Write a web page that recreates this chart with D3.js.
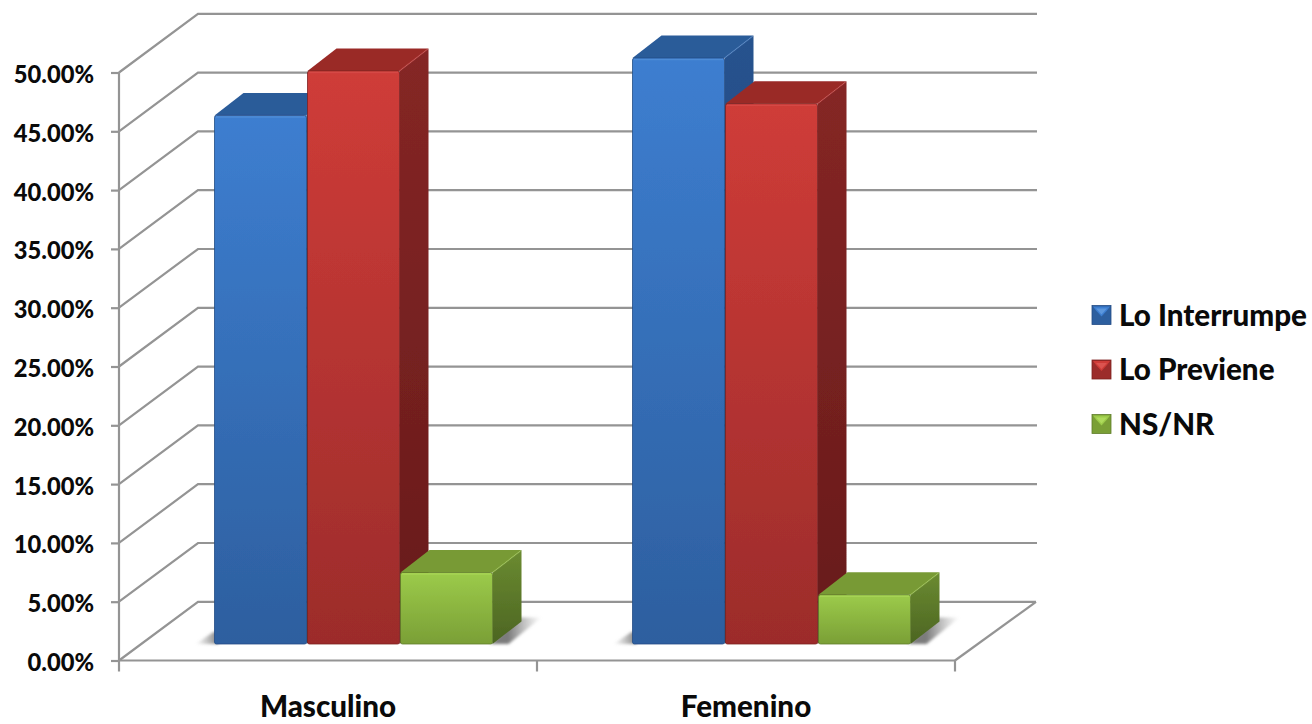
<!DOCTYPE html>
<html><head><meta charset="utf-8">
<script src="https://cdn.jsdelivr.net/npm/d3@7"></script>
<style>html,body{margin:0;background:#fff}svg{display:block}text{font-family:Lato,"Open Sans",sans-serif;font-weight:900;fill:#0a0a0a}</style>
</head><body><div id="c"></div>
<script>
const categories = ["Masculino", "Femenino"];
const loInterrumpe = [45.1, 50.0];
const loPreviene = [48.9, 46.1];
const nsNr = [6.1, 4.2];
const seriesNames = ["Lo Interrumpe", "Lo Previene", "NS/NR"];
const tickValues = [0,5,10,15,20,25,30,35,40,45,50];
const palette = [
  {front:["#3d7ed0","#2d5f9f"],top:"#2b5b99",side:["#27528e","#1d4272"],edge:"#5c97dd",dark:"#234d85"},
  {front:["#cf3c38","#9c2c2b"],top:"#9a2a28",side:["#852625","#671b1b"],edge:"#dc5450",dark:"#7e2220"},
  {front:["#9ccb4a","#7a9f36"],top:"#789a34",side:["#6b8b31","#4c6522"],edge:"#aedb5c",dark:"#5f7d2a"}
];

const W=1312,H=724;
const svg=d3.select("#c").append("svg").attr("width",W).attr("height",H);
const defs=svg.append("defs");
const f=defs.append("filter").attr("id","shadow").attr("x","-50%").attr("y","-50%").attr("width","200%").attr("height","200%");
f.append("feGaussianBlur").attr("stdDeviation",1.6);
const soft=defs.append("filter").attr("id","soft");
soft.append("feGaussianBlur").attr("stdDeviation",0.45);
palette.forEach((p,i)=>{
  [["front",p.front],["side",p.side]].forEach(([k,c])=>{
    const g=defs.append("linearGradient").attr("id",k+i).attr("x1",0).attr("x2",0).attr("y1",0).attr("y2",1);
    g.append("stop").attr("offset",0).attr("stop-color",c[0]);
    g.append("stop").attr("offset",1).attr("stop-color",c[1]);
  });
});
const fr=defs.append("linearGradient").attr("id","fadeR").attr("x1",0).attr("x2",1).attr("y1",0).attr("y2",0);
fr.append("stop").attr("offset",0.35).attr("stop-color","#7c7c7c");
fr.append("stop").attr("offset",1).attr("stop-color","#9a9a9a").attr("stop-opacity",0);
const fl=defs.append("linearGradient").attr("id","fadeL").attr("x1",0).attr("x2",1).attr("y1",0).attr("y2",0);
fl.append("stop").attr("offset",0).attr("stop-color","#9a9a9a").attr("stop-opacity",0);
fl.append("stop").attr("offset",1).attr("stop-color","#7c7c7c");

// scales
const plotLeft=119, plotRight=955, y0=660.5, yTop=72.5;
const wallDx=79, wallDy=58.7;
const x=d3.scaleBand().domain(categories).range([plotLeft,plotRight]);
const y=d3.scaleLinear().domain([0,50]).range([y0,yTop]);
const barBase=644;
const yBar=d3.scaleLinear().domain([0,50]).range([barBase,barBase-50*11.72]);
const barW=92, barStep=93, depthDx=29, depthDy=22.5, groupOffset=95.5;

// walls and floor
const grid=svg.append("g").attr("fill","none").attr("stroke","#949494").attr("stroke-width",2.2);
grid.selectAll("path.g").data(tickValues).join("path").attr("class","g")
  .attr("d",v=>`M${plotLeft},${y(v)}L${plotLeft+wallDx},${y(v)-wallDy}L${plotRight+wallDx+(v===0?2:3)},${y(v)-wallDy}`);
grid.append("path").attr("d",`M${plotRight},${y0}L${plotRight+wallDx+2},${y0-wallDy}`);

// axes
const gy=svg.append("g").attr("transform",`translate(${plotLeft},0)`)
  .call(d3.axisLeft(y).tickValues(tickValues).tickSize(8).tickPadding(17).tickFormat(d=>d3.format(".2f")(d)+"%"));
gy.selectAll("line").attr("stroke","#949494").attr("stroke-width",2.2);
gy.select(".domain").attr("stroke","#949494").attr("stroke-width",2.2).attr("d",`M0,${yTop}V${y0}`);
gy.selectAll("text").style("font-size","23.7px").attr("dy","0.42em");

const gx=svg.append("g").attr("transform",`translate(0,${y0})`)
  .call(d3.axisBottom(x).tickSize(0).tickPadding(35.5));
gx.select(".domain").attr("stroke","#949494").attr("stroke-width",2.2).attr("d",`M${plotLeft},0H${plotRight}`);
gx.selectAll("text").style("font-size","29.6px");
const edges=[plotLeft,plotLeft+x.step(),plotLeft+2*x.step()];
gx.selectAll("line.edge").data(edges).join("line").attr("class","edge")
  .attr("x1",d=>d).attr("x2",d=>d).attr("y1",0).attr("y2",11).attr("stroke","#949494").attr("stroke-width",2.2);

// bars
const series=[loInterrumpe,loPreviene,nsNr];
const bars=svg.append("g");
categories.forEach((c,ci)=>{
  const gx0=x(c)+groupOffset;
  const xe=gx0+3*barStep-1;
  // floor shadow: left wedge beside the first bar, right wedge past the last bar
  bars.append("path").attr("filter","url(#shadow)").attr("fill","url(#fadeL)")
    .attr("d",`M${gx0-19},${barBase}L${gx0-1},${barBase-12}H${gx0+4}V${barBase}Z`);
  bars.append("path").attr("filter","url(#shadow)").attr("fill","url(#fadeR)")
    .attr("d",`M${xe-2},${barBase}L${xe+depthDx-2},${barBase-depthDy-4}H${xe+depthDx+20}L${xe+16},${barBase}Z`);
  series.forEach((s,si)=>{
    const v=s[ci], p=palette[si], xl=gx0+si*barStep, xr=xl+barW, yt=yBar(v), yb=barBase;
    const g=bars.append("g").datum(v).attr("filter","url(#soft)");
    g.append("path").attr("fill",`url(#side${si})`)
      .attr("d",`M${xr},${yt}L${xr+depthDx},${yt-depthDy}L${xr+depthDx},${yb-depthDy}L${xr},${yb}Z`);
    g.append("path").attr("fill",p.top)
      .attr("d",`M${xl},${yt}L${xl+depthDx},${yt-depthDy}L${xr+depthDx},${yt-depthDy}L${xr},${yt}Z`);
    g.append("rect").attr("x",xl).attr("y",yt).attr("width",barW).attr("height",yb-yt).attr("rx",2)
      .attr("fill",`url(#front${si})`).attr("stroke",p.dark).attr("stroke-width",0.8);
    g.append("path").attr("fill","none").attr("stroke",p.edge).attr("stroke-opacity",.55).attr("stroke-width",1.6)
      .attr("d",`M${xl+1.5},${yt+1.5}H${xr-1.5}`);
    g.append("path").attr("fill","none").attr("stroke",p.edge).attr("stroke-opacity",.35).attr("stroke-width",1.4)
      .attr("d",`M${xr},${yt}L${xr+depthDx-1},${yt-depthDy+1}`);
  });
});

// legend
const legY=d3.scalePoint().domain(seriesNames).range([315,424]);
const leg=svg.append("g").selectAll("g").data(seriesNames).join("g")
  .attr("transform",d=>`translate(1092,${legY(d)})`);
leg.each(function(d,i){
  const g=d3.select(this), p=palette[i], s=19, t=-9.5;
  g.append("rect").attr("x",0).attr("y",t).attr("width",s).attr("height",s).attr("fill",p.front[1]).attr("stroke",p.dark).attr("stroke-width",.8);
  g.append("path").attr("fill",p.front[0]).attr("d",`M1,${t+1}H${s-1}L${s-4},${t+5}L${s/2},${t+11}L4,${t+5}Z`);
  g.append("path").attr("fill",p.edge).attr("d",`M4,${t+3}H${s-4}L${s/2},${t+9}Z`);
  g.append("text").attr("x",27).attr("dy","0.36em").style("font-size","29.6px").text(d);
});
</script></body></html>
